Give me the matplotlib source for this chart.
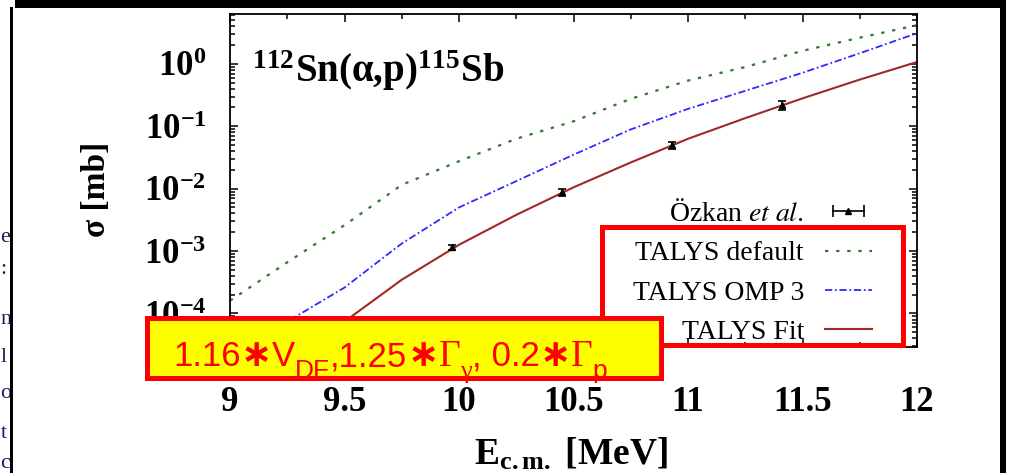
import numpy as np
import matplotlib.pyplot as plt
from matplotlib.lines import Line2D
from matplotlib.patches import Rectangle
from matplotlib.legend_handler import HandlerLine2D
from matplotlib.ticker import LogLocator, NullFormatter

plt.rcParams['font.family'] = ['Liberation Serif', 'DejaVu Serif']
plt.rcParams['mathtext.fontset'] = 'stix'

# TALYS calculations: E_cm [MeV] vs sigma [mb]
energy = [9.0, 9.25, 9.5, 9.75, 10.0, 10.25, 10.5, 10.75, 11.0, 11.25, 11.5, 11.75, 12.0]
sigma_default = [1.6e-4, 6.6e-4, 2.6e-3, 1.15e-2, 2.75e-2, 6.3e-2, 1.2e-1, 2.75e-1,
                 5.4e-1, 8.9e-1, 1.62, 2.63, 4.17]
sigma_omp3 = [1.8e-5, 7.4e-5, 2.6e-4, 1.32e-3, 5.0e-3, 1.32e-2, 3.5e-2, 8.9e-2,
              1.9e-1, 3.7e-1, 7.2e-1, 1.48, 3.1]
sigma_fit = [4.5e-6, 1.9e-5, 7.4e-5, 3.47e-4, 1.26e-3, 3.8e-3, 1.05e-2, 2.63e-2,
             6.3e-2, 1.35e-1, 2.8e-1, 5.6e-1, 1.07]

# Ozkan et al. activation data
exp_energy = [9.97, 10.45, 10.93, 11.41]
exp_sigma = [1.15e-3, 8.7e-3, 5.0e-2, 0.22]
exp_err = [1.1e-4, 1.0e-3, 7.0e-3, 3.5e-2]

xticks = [9, 9.5, 10, 10.5, 11, 11.5, 12]
xtick_labels = ['9', '9.5', '10', '10.5', '11', '11.5', '12']

# fit parameters note, written piece by piece
note_parts = [('1.16', 'main'), ('∗', 'star'), ('V', 'main'), ('DF', 'sub'),
              (',1.25', 'main'), ('∗', 'star'), ('Γ', 'greek'), ('γ', 'greeksub'),
              (',', 'main'), (' 0.2', 'main'), ('∗', 'star'), ('Γ', 'greek'), ('p', 'sub')]

W, H = 1012, 473


def fig_box(x0, y0, x1, y1):
    # pixel box (origin top-left) -> figure fractions
    return x0 / W, 1 - y1 / H, (x1 - x0) / W, (y1 - y0) / H


fig = plt.figure(figsize=(W / 100, H / 100), dpi=100)
ax = fig.add_axes(fig_box(230, 14, 917, 347))

l_def, = ax.plot(energy, sigma_default, color='#2f7a2f', lw=1.6, ls=(0, (1.5, 3.5)))
l_omp, = ax.plot(energy, sigma_omp3, color='#2b2bff', lw=1.3, ls=(0, (4, 1.5, 1, 1.5)))
l_fit, = ax.plot(energy, sigma_fit, color='#a02828', lw=1.5)
ax.errorbar(exp_energy, exp_sigma, yerr=exp_err, fmt='^', color='k', ms=4,
            capsize=3, elinewidth=1.2, capthick=1.2, zorder=5)

ax.set_yscale('log')
ax.set_xlim(9, 12)
ax.set_ylim(2.9e-5, 6.3)
ax.set_xticks(xticks, xtick_labels)
ax.set_xticks(np.arange(9, 12.01, 0.25), minor=True)
ax.yaxis.set_major_locator(LogLocator(base=10, numticks=20))
ax.yaxis.set_minor_locator(LogLocator(base=10, subs=np.arange(2, 10), numticks=20))
ax.yaxis.set_minor_formatter(NullFormatter())

ax.tick_params(which='both', direction='in', top=True, right=True, width=1.1)
ax.tick_params(which='major', length=6, labelsize=25)
ax.tick_params(which='minor', length=3.5)
ax.tick_params(axis='x', pad=28)
ax.tick_params(axis='y', pad=17)
for lab in ax.get_xticklabels() + ax.get_yticklabels():
    lab.set_fontweight('bold')
for sp in ax.spines.values():
    sp.set_linewidth(1.3)

ax.set_xlabel(r'E$_{\mathdefault{c.m.}}$ [MeV]', fontsize=27, fontweight='bold')
ax.xaxis.set_label_coords(0.497, -0.27)
ax.set_ylabel('σ [mb]', fontsize=24, fontweight='bold')
ax.yaxis.set_label_coords(-0.172, 0.474)

ax.text(0.032, 0.796, r'$^{\mathdefault{112}}$Sn(α,p)$^{\mathdefault{115}}$Sb',
        transform=ax.transAxes, fontsize=28, fontweight='bold', va='baseline')

# legend: text right-aligned, sample on the right
cap_line = Line2D([], [], color='k', lw=1.2, marker='|', ms=8, mew=1.2)
tri = Line2D([], [], color='k', ls='none', marker='^', ms=4)
handles = [(cap_line, tri), l_def, l_omp, l_fit]
labels = [r'Özkan $\mathit{et\ al.}$', 'TALYS default', 'TALYS OMP 3', 'TALYS Fit']
ax.legend(handles, labels, loc='lower right', bbox_to_anchor=(0.9345, 0.006),
          frameon=False, markerfirst=False, fontsize=20, handlelength=1.7,
          handletextpad=0.75, labelspacing=0.5, borderpad=0, borderaxespad=0,
          handler_map={cap_line: HandlerLine2D(numpoints=2),
                       tri: HandlerLine2D(numpoints=1)})

# red frame around the TALYS entries
rb = fig_box(602.5, 227.5, 902.5, 345.5)
fig.add_artist(Rectangle(rb[:2], *rb[2:], transform=fig.transFigure, fill=False,
                         ec='#ff0000', lw=3.6, zorder=3))

# yellow note box with fit parameters
yb = fig_box(147.5, 318, 661.5, 377.5)
fig.add_artist(Rectangle(yb[:2], *yb[2:], transform=fig.transFigure,
                         fc='#ffff00', ec='#ff0000', lw=3.6, zorder=4))

styles = {
    'main': dict(family='Liberation Sans', size=25, base=366),
    'sub': dict(family='Liberation Sans', size=19, base=378),
    'star': dict(family='DejaVu Sans', size=27, weight='bold', base=366),
    'greek': dict(family='Liberation Serif', size=27, base=366),
    'greeksub': dict(family='Liberation Serif', size=19, base=378),
}
renderer = fig.canvas.get_renderer()
x = 173
for s, kind in note_parts:
    st = styles[kind]
    t = fig.text(x / W, 1 - st['base'] / H, s, color='#ff0000', family=st['family'],
                 fontsize=st['size'], fontweight=st.get('weight', 'normal'),
                 va='baseline', zorder=5)
    x = t.get_window_extent(renderer).x1

# slide fragments at the left edge
for ch, y in [('e', 242), (':', 274), ('n', 324), ('l', 362), ('o', 398), ('t', 438), ('c', 468)]:
    fig.text(0.5 / W, 1 - y / H, ch, color='#1c1c5a', fontsize=16, va='baseline')

# slide border
for box in [(15, 0, 1003, 8), (10, 7, 13.5, 473), (1000, 0, 1006.5, 473)]:
    b = fig_box(*box)
    fig.add_artist(Rectangle(b[:2], *b[2:], transform=fig.transFigure,
                             fc='black', ec='none', zorder=6))

fig.savefig('out.png', dpi=100)
